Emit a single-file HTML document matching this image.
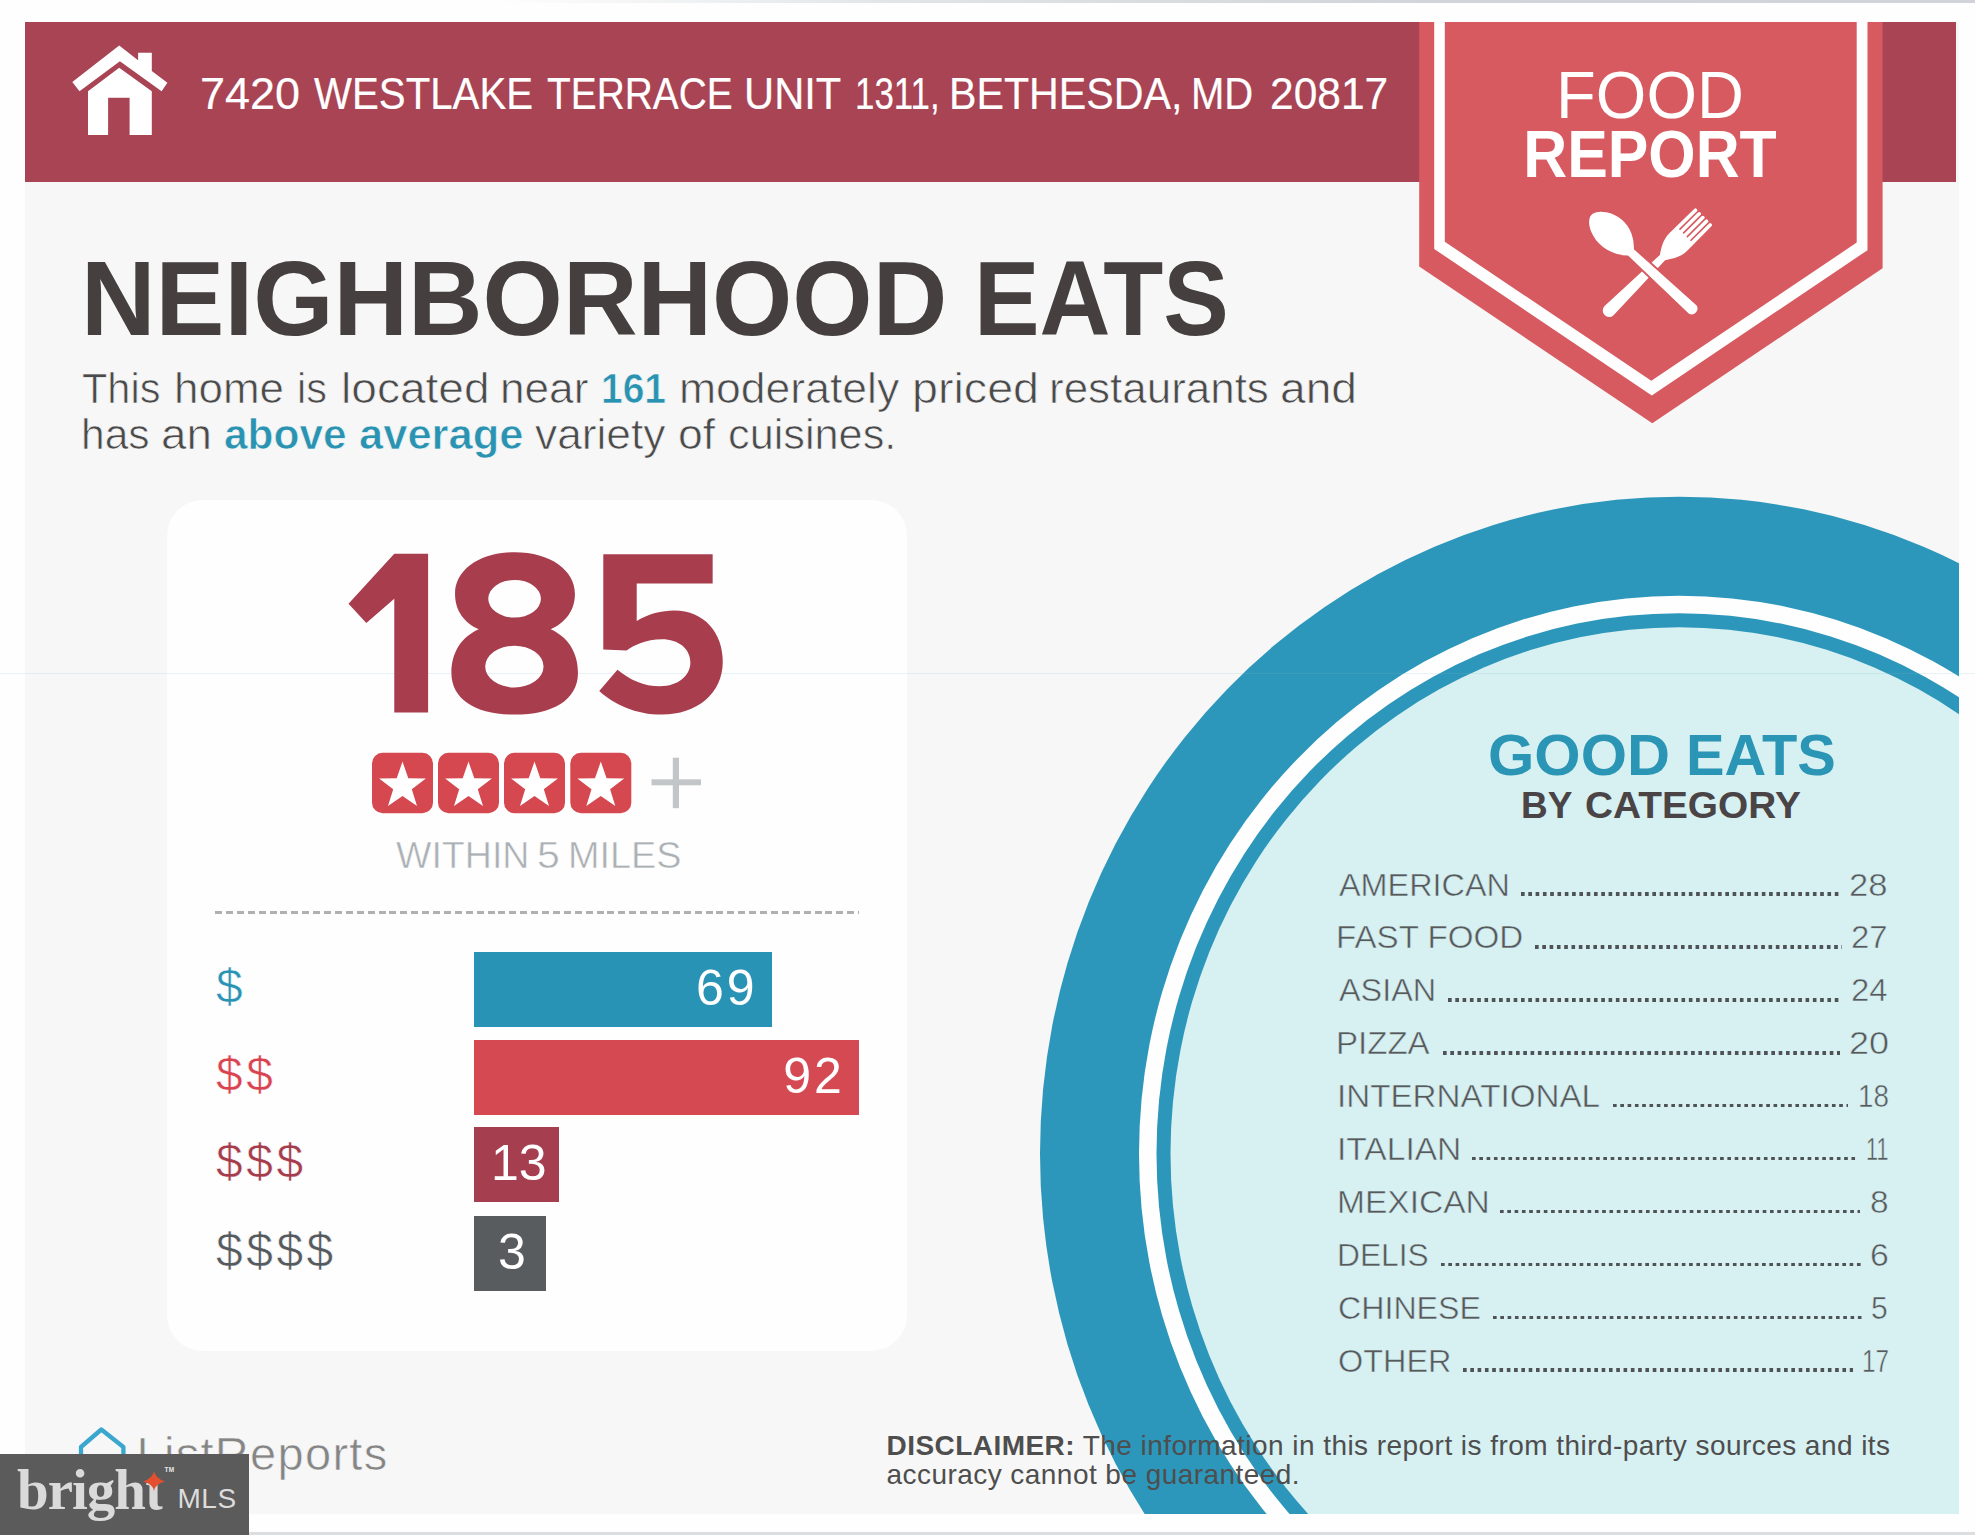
<!DOCTYPE html>
<html><head><meta charset="utf-8"><title>Food Report</title>
<style>
*{margin:0;padding:0;box-sizing:border-box}
html,body{width:1975px;height:1535px;overflow:hidden;background:#fefefe;font-family:"Liberation Sans",sans-serif}
.a{position:absolute;white-space:nowrap}
#page{position:absolute;left:25px;top:22px;width:1934px;height:1492px;background:#f7f7f7;overflow:hidden}
#topline{position:absolute;left:0;top:0;width:1975px;height:3px;background:linear-gradient(to right,#fefefe 0,#fefefe 25%,#e2e4e6 45%,#d2d6da 70%,#d0d4d8 100%)}
#botline{position:absolute;left:0;top:1532px;width:1975px;height:3px;background:#dcdfe1}
#banner{position:absolute;left:25px;top:22px;width:1931px;height:160px;background:#a84454}
#card{position:absolute;left:167px;top:500px;width:740px;height:851px;background:#fefefe;border-radius:36px}
.t{position:absolute;white-space:nowrap;line-height:1}
.aw{top:71px;font-size:45px;color:#fff;transform-origin:0 0;-webkit-text-stroke:0.2px #fff}
.bw{font-size:43px;color:#4a4a4a;transform-origin:0 0;-webkit-text-stroke:0.7px #f7f7f7}
.bb{font-weight:700;color:#2a93b1}
.cn{font-size:32px;color:#58595b;transform-origin:0 0;-webkit-text-stroke:0.5px #d7f0f2}
.cv{font-size:32px;transform-origin:0 0;color:#58595b;-webkit-text-stroke:0.5px #d7f0f2}
.cd{height:3.5px;background:linear-gradient(to right,#4f5355 3.6px,transparent 3.6px);background-size:7.3px 100%}
.row{display:flex;align-items:baseline;-webkit-text-stroke:0.5px #d7f0f2}
.row i{flex:1;height:3.5px;margin:0 10px 0 13px;background:linear-gradient(to right,#4f5355 3.6px,transparent 3.6px);background-size:7.3px 100%;position:relative;top:0px}
.row span:first-child{letter-spacing:0.5px}
</style></head><body>
<div id="topline"></div>
<div id="page"><svg class="a" style="left:0;top:0" width="1934" height="1492" viewBox="25 22 1934 1492">
<ellipse cx="1679" cy="1153.7" rx="639" ry="657" fill="#2c97ba"/>
<ellipse cx="1679" cy="1153.7" rx="540" ry="558" fill="#fefefe"/>
<ellipse cx="1679" cy="1153.7" rx="522.5" ry="540.5" fill="#2c97ba"/>
<ellipse cx="1679" cy="1153.7" rx="508.5" ry="526.5" fill="#d7f0f2"/>
</svg></div>
<div id="card"></div>
<div id="banner"></div>
<div id="botline"></div>
<div class="a" style="left:0;top:673px;width:1975px;height:1px;background:rgba(120,190,200,0.18)"></div>
<svg class="a" style="left:0;top:0" width="200" height="182" viewBox="0 0 200 182">
<polygon fill="#fff" points="119.2,45.6 138.1,60.3 138.1,52.8 151.8,52.8 151.8,71 167.4,82.7 161.6,91.2 119.9,61.2 79.5,91.2 72.3,82.1"/>
<polygon fill="#fff" points="119.2,67.8 151.8,91.2 151.8,134.9 129.6,134.9 129.6,97.7 108.1,97.7 108.1,134.9 88,134.9 88,91.2"/>
</svg>
<div class="t aw" style="left:200px;transform:scaleX(1.0)">7420</div>
<div class="t aw" style="left:314.2px;transform:scaleX(0.894)">WESTLAKE</div>
<div class="t aw" style="left:546.5px;transform:scaleX(0.864)">TERRACE</div>
<div class="t aw" style="left:744.4px;transform:scaleX(0.927)">UNIT</div>
<div class="t aw" style="left:855.2px;transform:scaleX(0.775)">1311,</div>
<div class="t aw" style="left:949.1px;transform:scaleX(0.915)">BETHESDA,</div>
<div class="t aw" style="left:1191.4px;transform:scaleX(0.89)">MD</div>
<div class="t aw" style="left:1270px;transform:scaleX(0.944)">20817</div>
<svg class="a" style="left:0;top:0" width="1975" height="440" viewBox="0 0 1975 440">
<polygon fill="#d75a60" points="1419.2,22 1882.6,22 1882.6,268.3 1652.3,423.3 1419.2,266.4"/>
<polygon fill="#fefefe" points="1434.2,22 1444.8,22 1444.8,241.8 1651.3,380.8 1856.7,242.6 1856.7,22 1867.5,22 1867.5,250.2 1651.8,395.4 1434.2,249"/>
</svg>
<div class="t" style="left:1450px;width:400px;text-align:center;top:62px;font-size:66px;color:#fff;transform:scaleX(0.985)">FOOD</div>
<div class="t" style="left:1450px;width:400px;text-align:center;top:121.3px;font-size:66px;font-weight:700;color:#fff;transform:scaleX(0.922)">REPORT</div>
<svg class="a" style="left:1575px;top:200px" width="150" height="125" viewBox="0 0 1842 1535">
<g transform="translate(1585,200) rotate(45.2)" fill="#fff">
<path d="M-150,22 A22,22 0 0 1 -106,22 L-106,330 L-86,330 L-86,22 A22,22 0 0 1 -42,22 L-42,330 L-22,330 L-22,22 A22,22 0 0 1 22,22 L22,330 L42,330 L42,22 A22,22 0 0 1 86,22 L86,330 L106,330 L106,22 A22,22 0 0 1 150,22 L154,440 C154,570 90,650 46,720 L78,1644 A78,78 0 0 1 -78,1644 L-46,720 C-90,650 -154,570 -154,440 Z"/>
</g>
<path fill="#fff" stroke="#d75a60" stroke-width="24" d="M735,600 C740,480 700,330 580,230 C470,140 300,100 210,160 C140,210 150,330 210,440 C290,590 460,690 650,695 L1385,1400 A82,82 0 0 0 1495,1280 Z"/>
</svg>
<div class="t" style="left:80.8px;top:245.6px;font-size:105.8px;font-weight:700;color:#45403f;transform:scaleX(0.976);transform-origin:0 0">NEIGHBORHOOD</div>
<div class="t" style="left:973.9px;top:245.6px;font-size:105.8px;font-weight:700;color:#45403f;transform:scaleX(0.9285);transform-origin:0 0">EATS</div>
<div class="t bw" style="left:82.2px;top:366.9px;transform:scaleX(0.965)">This</div>
<div class="t bw" style="left:174.1px;top:366.9px;transform:scaleX(1.022)">home</div>
<div class="t bw" style="left:297.4px;top:366.9px;transform:scaleX(0.963)">is</div>
<div class="t bw" style="left:340.9px;top:366.9px;transform:scaleX(1.072)">located</div>
<div class="t bw" style="left:499.8px;top:366.9px;transform:scaleX(1.027)">near</div>
<div class="t bw bb" style="left:600.6px;top:366.9px;transform:scaleX(0.906)">161</div>
<div class="t bw" style="left:678.5px;top:366.9px;transform:scaleX(1.035)">moderately</div>
<div class="t bw" style="left:911.9px;top:366.9px;transform:scaleX(1.085)">priced</div>
<div class="t bw" style="left:1048.7px;top:366.9px;transform:scaleX(1.022)">restaurants</div>
<div class="t bw" style="left:1279.8px;top:366.9px;transform:scaleX(1.073)">and</div>
<div class="t bw" style="left:81.2px;top:412.6px;transform:scaleX(0.989)">has</div>
<div class="t bw" style="left:160.9px;top:412.6px;transform:scaleX(1.063)">an</div>
<div class="t bw bb" style="left:224.3px;top:412.6px;transform:scaleX(0.987)">above</div>
<div class="t bw bb" style="left:359.3px;top:412.6px;transform:scaleX(1.012)">average</div>
<div class="t bw" style="left:534.6px;top:412.6px;transform:scaleX(1.03)">variety</div>
<div class="t bw" style="left:677.9px;top:412.6px;transform:scaleX(1.035)">of</div>
<div class="t bw" style="left:727.8px;top:412.6px;transform:scaleX(1.006)">cuisines.</div>
<svg class="a" style="left:340px;top:540px" width="400" height="190" viewBox="0 0 1975 938"><g fill="#a83d4e" fill-rule="evenodd">
<path d="M268,68 L435,68 L435,852 L268,852 L268,290 L130,410 L42,315 Z"/>
<path d="M862,60 C1040,60 1160,150 1160,265 C1160,350 1110,410 1040,440 C1130,480 1175,560 1175,655 C1175,790 1050,862 862,862 C675,862 550,790 550,655 C550,560 595,480 685,440 C615,410 568,350 568,265 C568,150 685,60 862,60 Z M732,290 A130,93 0 1 0 992,290 A130,93 0 1 0 732,290 Z M717,625 A144,103 0 1 0 1005,625 A144,103 0 1 0 717,625 Z"/>
<path d="M1300,70 L1840,70 L1840,215 L1465,215 L1465,400 C1520,365 1590,348 1650,348 C1800,348 1890,460 1890,600 C1890,760 1760,862 1590,862 C1460,862 1350,810 1280,745 L1370,640 C1430,690 1500,722 1580,722 C1670,722 1730,670 1730,605 C1730,535 1670,490 1590,490 C1510,490 1450,520 1415,545 L1300,540 Z"/>
</g></svg>
<svg class="a" style="left:0;top:0" width="720" height="830" viewBox="0 0 720 830"><rect x="372" y="752.8" width="61" height="60.4" rx="10.5" fill="#d5484f"/><polygon fill="#fff" points="402.5,761.6 408.3,778.3 425.9,778.6 411.8,789.2 417.0,806.1 402.5,796.0 388.0,806.1 393.2,789.2 379.1,778.6 396.7,778.3"/><rect x="438" y="752.8" width="61" height="60.4" rx="10.5" fill="#d5484f"/><polygon fill="#fff" points="468.5,761.6 474.3,778.3 491.9,778.6 477.8,789.2 483.0,806.1 468.5,796.0 454.0,806.1 459.2,789.2 445.1,778.6 462.7,778.3"/><rect x="504" y="752.8" width="61" height="60.4" rx="10.5" fill="#d5484f"/><polygon fill="#fff" points="534.5,761.6 540.3,778.3 557.9,778.6 543.8,789.2 549.0,806.1 534.5,796.0 520.0,806.1 525.2,789.2 511.1,778.6 528.7,778.3"/><rect x="570.3" y="752.8" width="61" height="60.4" rx="10.5" fill="#d5484f"/><polygon fill="#fff" points="600.8,761.6 606.6,778.3 624.2,778.6 610.1,789.2 615.3,806.1 600.8,796.0 586.3,806.1 591.5,789.2 577.4,778.6 595.0,778.3"/><rect x="672.8" y="757.7" width="6.2" height="50.5" fill="#c3c6c8"/><rect x="651.5" y="779.3" width="49.5" height="6" fill="#c3c6c8"/></svg>
<div class="t" style="left:396.3px;top:837.5px;font-size:36px;color:#abb0b4;-webkit-text-stroke:0.5px #fefefe;transform:scaleX(1.043);transform-origin:0 0">WITHIN</div>
<div class="t" style="left:537.3px;top:837.5px;font-size:36px;color:#abb0b4;-webkit-text-stroke:0.5px #fefefe;transform:scaleX(1.14);transform-origin:0 0">5</div>
<div class="t" style="left:568px;top:837.5px;font-size:36px;color:#abb0b4;-webkit-text-stroke:0.5px #fefefe;transform:scaleX(1.05);transform-origin:0 0">MILES</div>
<div class="a" style="left:215px;top:911px;width:644px;height:3px;background:repeating-linear-gradient(to right,#aeb0b2 0,#aeb0b2 7px,transparent 7px,transparent 10.9px)"></div>
<div class="t" style="left:216px;top:962.6px;font-size:48px;letter-spacing:3.5px;-webkit-text-stroke:0.6px #fefefe;color:#2a93b3">$</div>
<div class="t" style="left:474px;top:951.6px;width:297.7px;height:75px;background:#2993b5;color:#fff;font-size:50px;line-height:73px;letter-spacing:3px;text-align:right;padding-right:14px">69</div>
<div class="t" style="left:216px;top:1050.5px;font-size:48px;letter-spacing:3.5px;-webkit-text-stroke:0.6px #fefefe;color:#d9434f">$$</div>
<div class="t" style="left:474px;top:1039.5px;width:384.8px;height:75px;background:#d54a52;color:#fff;font-size:50px;line-height:73px;letter-spacing:3px;text-align:right;padding-right:14px">92</div>
<div class="t" style="left:216px;top:1138.4px;font-size:48px;letter-spacing:3.5px;-webkit-text-stroke:0.6px #fefefe;color:#a53c4c">$$$</div>
<div class="t" style="left:474px;top:1127.4px;width:85px;height:75px;background:#a53e4f;color:#fff;font-size:50px;line-height:73px;letter-spacing:0px;text-align:left;padding-left:17px">13</div>
<div class="t" style="left:216px;top:1226.7px;font-size:48px;letter-spacing:3.5px;-webkit-text-stroke:0.6px #fefefe;color:#555a5e">$$$$</div>
<div class="t" style="left:474px;top:1215.7px;width:71.7px;height:75px;background:#585c5f;color:#fff;font-size:50px;line-height:73px;letter-spacing:0px;text-align:left;padding-left:24px">3</div>
<div class="t" style="left:1487.5px;top:725.5px;font-size:58px;font-weight:700;color:#2b95b5;transform:scaleX(1.027);transform-origin:0 0">GOOD</div>
<div class="t" style="left:1686px;top:725.5px;font-size:58px;font-weight:700;color:#2b95b5;transform:scaleX(0.996);transform-origin:0 0">EATS</div>
<div class="t" style="left:1521px;top:787.3px;font-size:37px;font-weight:700;color:#4a4446">BY</div>
<div class="t" style="left:1584.6px;top:787.3px;font-size:37px;font-weight:700;color:#4a4446;transform:scaleX(1.05);transform-origin:0 0">CATEGORY</div>
<div class="t cn" style="left:1338.8px;top:868.5px;transform:scaleX(1.012)">AMERICAN</div>
<div class="a cd" style="left:1520.8px;top:892.3px;width:319.2px"></div>
<div class="t cv" style="left:1848.8px;top:868.5px;transform:scaleX(1.081)">28</div>
<div class="t cn" style="left:1335.7px;top:921.4px;transform:scaleX(1.036)">FAST FOOD</div>
<div class="a cd" style="left:1535.1px;top:945.2px;width:307.0px"></div>
<div class="t cv" style="left:1851.0px;top:921.4px;transform:scaleX(1.028)">27</div>
<div class="t cn" style="left:1338.8px;top:974.3px;transform:scaleX(1.012)">ASIAN</div>
<div class="a cd" style="left:1447.9px;top:998.1px;width:394.2px"></div>
<div class="t cv" style="left:1851.0px;top:974.3px;transform:scaleX(1.027)">24</div>
<div class="t cn" style="left:1335.7px;top:1027.2px;transform:scaleX(1.033)">PIZZA</div>
<div class="a cd" style="left:1442.7px;top:1051.0px;width:397.3px"></div>
<div class="t cv" style="left:1848.8px;top:1027.2px;transform:scaleX(1.125)">20</div>
<div class="t cn" style="left:1336.6px;top:1080.1px;transform:scaleX(1.037)">INTERNATIONAL</div>
<div class="a cd" style="left:1612.9px;top:1103.9px;width:235.3px"></div>
<div class="t cv" style="left:1857.5px;top:1080.1px;transform:scaleX(0.869)">18</div>
<div class="t cn" style="left:1336.6px;top:1133.0px;transform:scaleX(1.049)">ITALIAN</div>
<div class="a cd" style="left:1472.2px;top:1156.8px;width:383.6px"></div>
<div class="t cv" style="left:1865.5px;top:1133.0px;transform:scaleX(0.673)">11</div>
<div class="t cn" style="left:1336.6px;top:1185.9px;transform:scaleX(1.048)">MEXICAN</div>
<div class="a cd" style="left:1500.4px;top:1209.7px;width:359.9px"></div>
<div class="t cv" style="left:1870.3px;top:1185.9px;transform:scaleX(1.047)">8</div>
<div class="t cn" style="left:1336.7px;top:1238.8px;transform:scaleX(0.991)">DELIS</div>
<div class="a cd" style="left:1440.9px;top:1262.6px;width:420.3px"></div>
<div class="t cv" style="left:1870.1px;top:1238.8px;transform:scaleX(1.057)">6</div>
<div class="t cn" style="left:1337.7px;top:1291.7px;transform:scaleX(1.005)">CHINESE</div>
<div class="a cd" style="left:1493.4px;top:1315.5px;width:368.5px"></div>
<div class="t cv" style="left:1871.0px;top:1291.7px;transform:scaleX(0.940)">5</div>
<div class="t cn" style="left:1337.7px;top:1344.6px;transform:scaleX(1.013)">OTHER</div>
<div class="a cd" style="left:1463.1px;top:1368.4px;width:389.6px"></div>
<div class="t cv" style="left:1862.2px;top:1344.6px;transform:scaleX(0.759)">17</div>
<div class="t" style="left:886.5px;top:1430.5px;font-size:28px;line-height:29.6px;color:#4e4e4e;letter-spacing:0.45px"><b>DISCLAIMER:</b> The information in this report is from third-party sources and its<br>accuracy cannot be guaranteed.</div>
<svg class="a" style="left:70px;top:1420px" width="70" height="70" viewBox="0 0 70 70"><path d="M11,40 L11,27 L31.3,9.5 L53.4,27 L53.4,40" fill="none" stroke="#3aa7cf" stroke-width="4.3" stroke-linejoin="round"/></svg>
<div class="t" style="left:136.5px;top:1430px;font-size:47px;color:#858585;letter-spacing:1.3px;-webkit-text-stroke:0.6px #f7f7f7">ListReports</div>
<div class="a" style="left:0;top:1453.5px;width:248.5px;height:82px;background:#5b5b5b"></div>
<div class="t" style="left:17px;top:1460.5px;font-family:'Liberation Serif',serif;font-weight:700;font-size:57px;color:#dadada;letter-spacing:-1px">brigh&#953;</div>
<svg class="a" style="left:143px;top:1471px" width="24" height="20" viewBox="0 0 24 20"><path d="M11,0 Q12,7 22,10.5 Q12,13 11,20 Q10,13 0,10.5 Q10,7 11,0Z" fill="#e4502f"/></svg>
<div class="t" style="left:164.5px;top:1467px;font-size:6.5px;font-weight:700;color:#e8e8e8;letter-spacing:0.3px">TM</div>
<div class="t" style="left:177.5px;top:1484.5px;font-size:28px;color:#dcdcdc;letter-spacing:0.5px">MLS</div>
</body></html>
